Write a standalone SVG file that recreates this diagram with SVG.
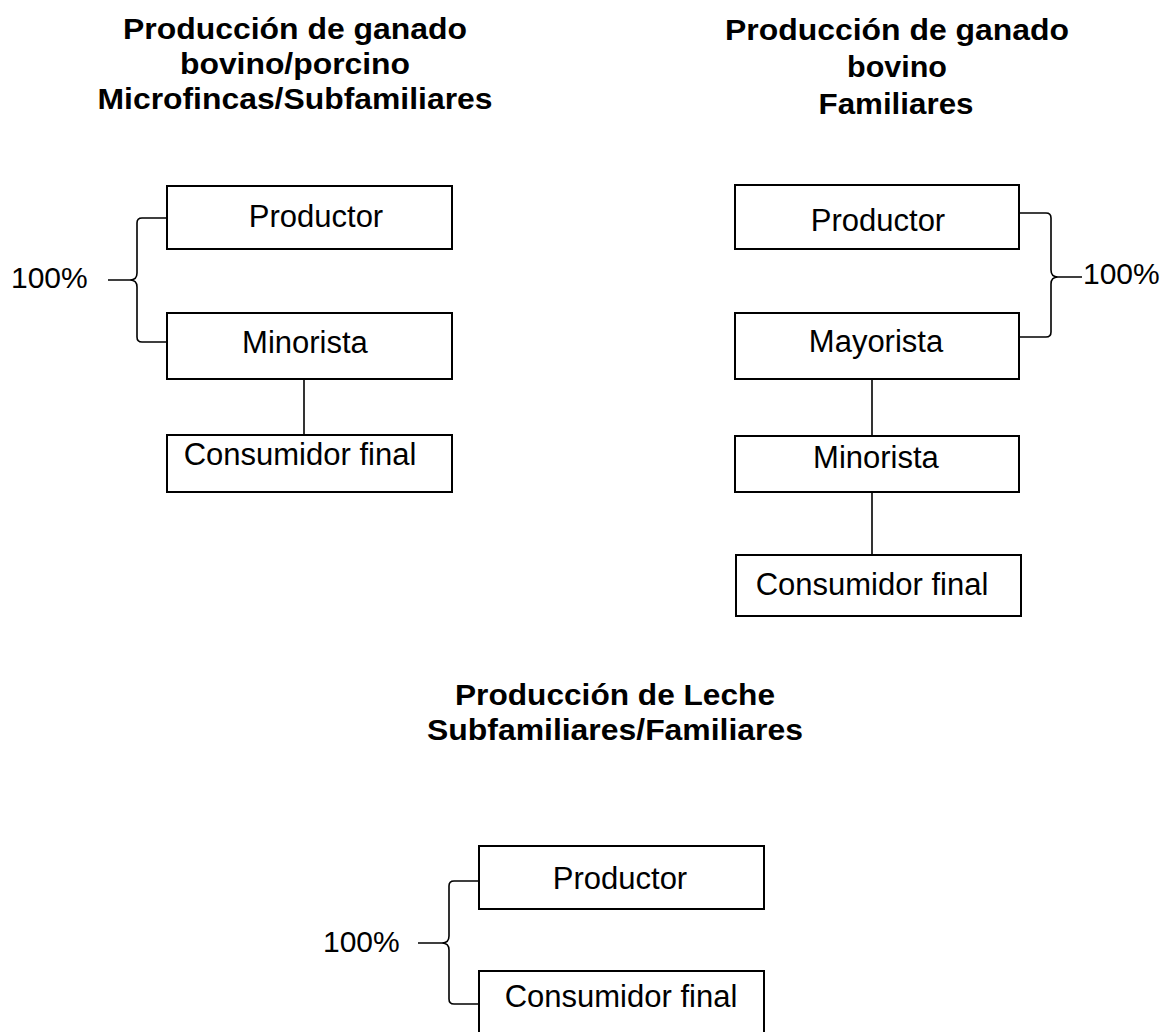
<svg xmlns="http://www.w3.org/2000/svg" width="1167" height="1032" viewBox="0 0 1167 1032">
<style>
.box{fill:#fff;stroke:#000;stroke-width:2}
.lbl{font-family:"Liberation Sans",Arial,sans-serif;font-size:31px;fill:#000;text-anchor:middle}
.ttl{font-family:"Liberation Sans",Arial,sans-serif;font-size:29px;font-weight:bold;fill:#000;text-anchor:middle}
.pct{font-family:"Liberation Sans",Arial,sans-serif;font-size:30px;fill:#000}
.ln{fill:none;stroke:#000;stroke-width:1.6}
</style>
<rect width="1167" height="1032" fill="#fff"/>
<g id="titles">
<text class="ttl" x="295" y="39" textLength="344" lengthAdjust="spacingAndGlyphs">Producción de ganado</text>
<text class="ttl" x="295" y="74" textLength="230" lengthAdjust="spacingAndGlyphs">bovino/porcino</text>
<text class="ttl" x="295" y="109" textLength="395" lengthAdjust="spacingAndGlyphs">Microfincas/Subfamiliares</text>
<text class="ttl" x="897" y="40" textLength="344" lengthAdjust="spacingAndGlyphs">Producción de ganado</text>
<text class="ttl" x="897" y="77" textLength="100" lengthAdjust="spacingAndGlyphs">bovino</text>
<text class="ttl" x="896" y="114" textLength="155" lengthAdjust="spacingAndGlyphs">Familiares</text>
<text class="ttl" x="615" y="705" textLength="320" lengthAdjust="spacingAndGlyphs">Producción de Leche</text>
<text class="ttl" x="615" y="740" textLength="376" lengthAdjust="spacingAndGlyphs">Subfamiliares/Familiares</text>
</g>
<g id="connectors">
<line class="ln" x1="304" y1="379" x2="304" y2="435"/>
<line class="ln" x1="872" y1="379" x2="872" y2="436"/>
<line class="ln" x1="872" y1="492" x2="872" y2="555"/>
<path class="ln" d="M167,218 H142 Q137,218 137,223 V273 Q137,280 130,280 Q137,280 137,287 V337 Q137,342 142,342 H167 M130,280 H108"/>
<path class="ln" d="M1019,213 H1046 Q1051,213 1051,218 V270 Q1051,277 1058,277 Q1051,277 1051,284 V332 Q1051,337 1046,337 H1019 M1058,277 H1082"/>
<path class="ln" d="M479,881 H454 Q449,881 449,886 V936 Q449,943 442,943 Q449,943 449,950 V999 Q449,1004 454,1004 H479 M442,943 H418"/>
</g>
<g id="pct-left"><text class="pct" x="11" y="288">100%</text></g>
<g id="pct-right"><text class="pct" x="1083" y="284">100%</text></g>
<g id="pct-bottom"><text class="pct" x="323" y="952">100%</text></g>
<g id="l-productor"><rect class="box" x="167" y="186" width="285" height="63"/><text class="lbl" x="316" y="227">Productor</text></g>
<g id="l-minorista"><rect class="box" x="167" y="313" width="285" height="66"/><text class="lbl" x="305" y="353">Minorista</text></g>
<g id="l-consumidor"><rect class="box" x="167" y="435" width="285" height="57"/><text class="lbl" x="300" y="465">Consumidor final</text></g>
<g id="r-productor"><rect class="box" x="735" y="185" width="284" height="64"/><text class="lbl" x="878" y="231">Productor</text></g>
<g id="r-mayorista"><rect class="box" x="735" y="313" width="284" height="66"/><text class="lbl" x="876" y="352">Mayorista</text></g>
<g id="r-minorista"><rect class="box" x="735" y="436" width="284" height="56"/><text class="lbl" x="876" y="468">Minorista</text></g>
<g id="r-consumidor"><rect class="box" x="736" y="555" width="285" height="61"/><text class="lbl" x="872" y="595">Consumidor final</text></g>
<g id="b-productor"><rect class="box" x="479" y="846" width="285" height="63"/><text class="lbl" x="620" y="889">Productor</text></g>
<g id="b-consumidor"><rect class="box" x="479" y="971" width="285" height="70"/><text class="lbl" x="621" y="1007">Consumidor final</text></g>
</svg>
